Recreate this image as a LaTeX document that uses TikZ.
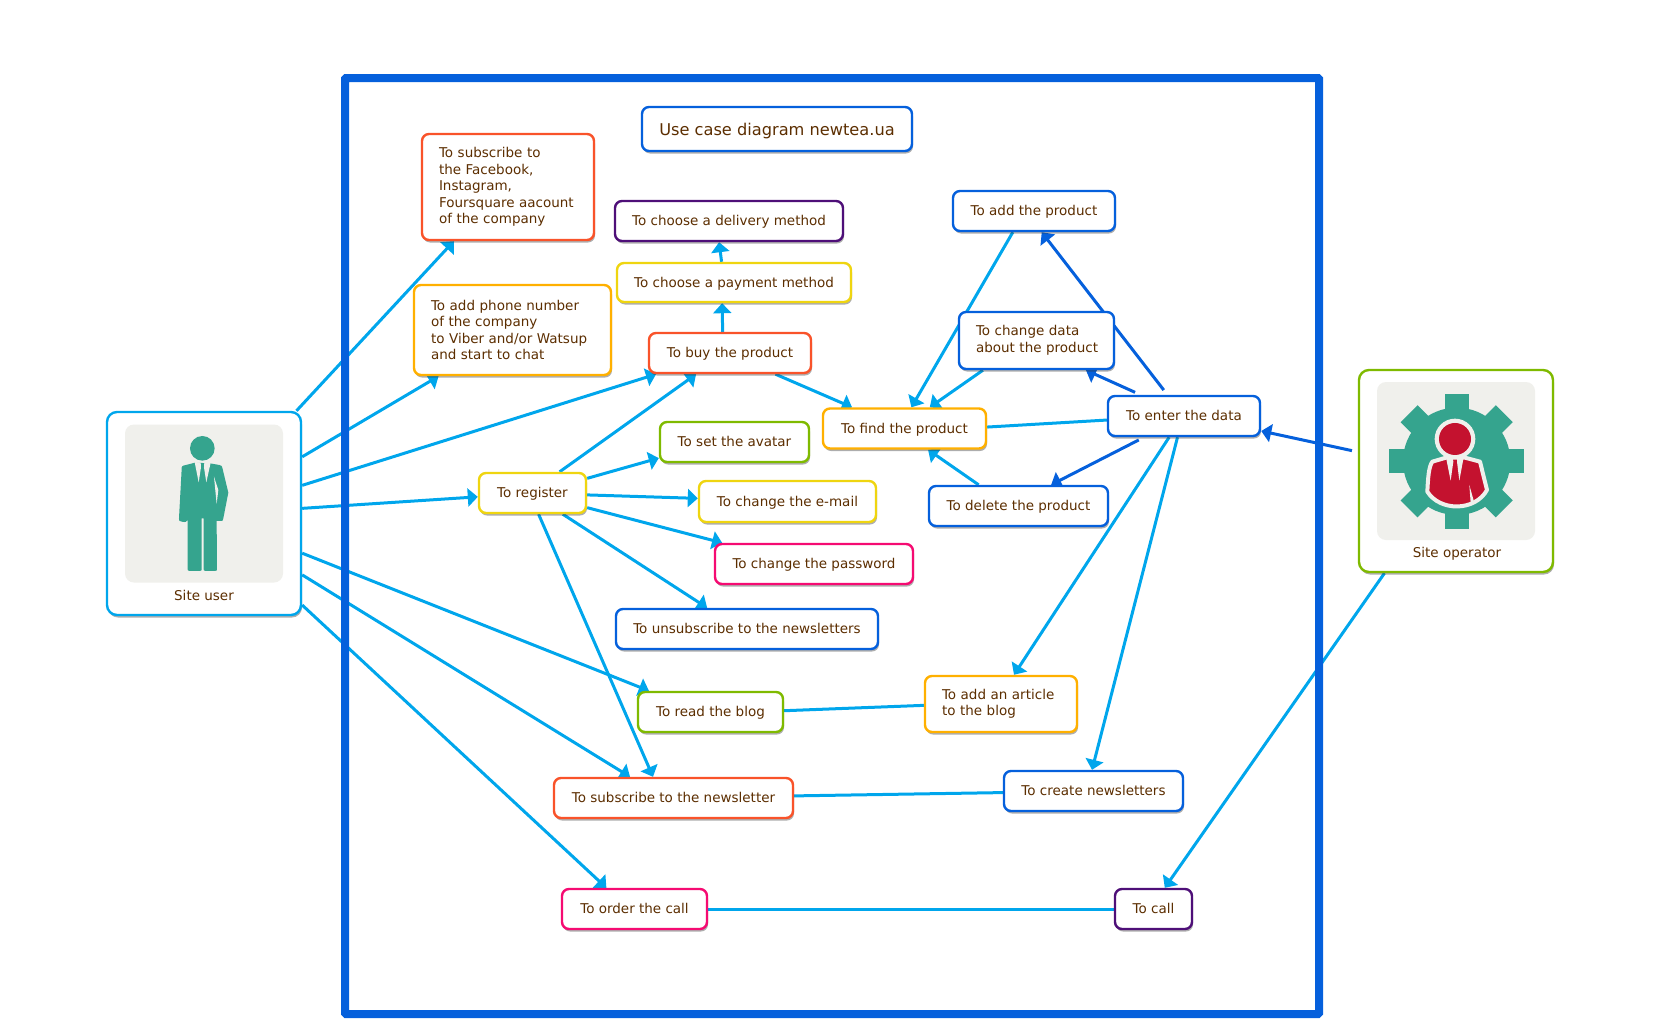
\documentclass[tikz,border=0pt]{standalone}
\usepackage{fontspec}
\setmainfont{DejaVu Sans}
\usetikzlibrary{arrows.meta,backgrounds,shadows}
\definecolor{LineCyan}{HTML}{00A6EC}
\definecolor{LineBlue}{HTML}{0560DC}
\definecolor{BoxRed}{HTML}{F9532A}
\definecolor{BoxOrange}{HTML}{FFB000}
\definecolor{BoxYellow}{HTML}{EFD510}
\definecolor{BoxGreen}{HTML}{7FBA00}
\definecolor{BoxPink}{HTML}{F50B72}
\definecolor{BoxPurple}{HTML}{4E0F78}
\definecolor{TextBrown}{HTML}{5C2E00}
\definecolor{PanelGrey}{HTML}{F0F0EC}
\definecolor{IconTeal}{HTML}{35A48E}
\definecolor{IconRed}{HTML}{C4122F}
\newcommand{\usecasebox}[7]{%
    \node[ucbox, text height=12.6pt, text depth=3pt, draw=#6, minimum width=#4pt, minimum height=#5pt] (#1) at (#2,#3) {#7};
}
\newcommand{\usecaselong}[7]{%
    \node[ucbox, align=left, text width=#4pt-34pt, draw=#6, minimum width=#4pt, minimum height=#5pt] (#1) at (#2,#3) {#7};
}
\newcommand{\actorbox}[6]{%
    \node[ucbox, rounded corners=10pt, draw=#4, minimum width=194pt, minimum height=#5pt] (#1) at (#2,#3) {};
    \node[actorpanel] (#1panel) at (#2,#3-#6) {};
}

\begin{document}
\begin{tikzpicture}[
            x=1pt, y=-1pt,
            ucbox/.style = {rectangle,
                rounded corners=7pt,
                fill=white,
                line width=2.4pt,
                text=TextBrown,
                inner sep=0pt,
                font=\fontsize{13.5pt}{16.5pt}\selectfont,
                drop shadow={shadow xshift=1pt, shadow yshift=-2.5pt, opacity=.4, fill=black!80},
            },
            actorpanel/.style = {rectangle,
                rounded corners=9pt,
                fill=PanelGrey,
                minimum width=158pt,
                minimum height=158pt,
            },
            actorlabel/.style = {text=TextBrown,
                inner sep=0pt,
                font=\fontsize{13.5pt}{16.5pt}\selectfont,
            },
            sysframe/.style = {rectangle,
                draw=LineBlue,
                line width=8pt,
                rounded corners=1pt,
                minimum width=974pt,
                minimum height=936pt,
            },
            assoc/.style = {draw=LineCyan, line width=3pt},
            ucarrow/.style = {assoc, -{Triangle[length=10pt, width=18pt]}},
            oparrow/.style = {draw=LineBlue, line width=3pt, -{Triangle[length=10pt, width=18pt]}, shorten <=6pt},
        ]
            \useasboundingbox (0,0) rectangle (1660,1036);
            \node[sysframe] (frame) at (832,546) {};

            % actors
            \actorbox{user}{204}{513.5}{LineCyan}{203}{10}
            \node[actorlabel] (userlabel) at (204,595) {Site user};
            \actorbox{operator}{1456}{471}{BoxGreen}{202}{10}
            \node[actorlabel] (operatorlabel) at (1457,554) {Site operator};

            % man icon
            \begin{scope}[shift={(80,380)}, x=.3333pt, y=-.3333pt]
                \fill[IconTeal] (367,205) circle (37);
                \fill[IconTeal] (318,255) -- (345,248) -- (390,250) -- (418,255) .. controls (425,257) .. (427,263) -- (445,338) -- (430,415)
                    .. controls (428,423) .. (423,423) -- (410,423) -- (411,563) .. controls (411,573) .. (403,573) -- (380,573)
                    .. controls (371,573) .. (371,563) -- (371,415) -- (365,415) -- (365,563) .. controls (365,573) .. (357,573) -- (332,573)
                    .. controls (323,573) .. (323,563) -- (323,420) .. controls (318,427) .. (305,425) .. controls (297,423) .. (297,415)
                    -- (305,268) .. controls (305,258) .. (318,255) -- cycle;
                \fill[PanelGrey] (344,246) -- (356,307) -- (363,262) -- (362,248) -- cycle;
                \fill[PanelGrey] (392,248) -- (379,307) -- (372,262) -- (373,248) -- cycle;
                \fill[PanelGrey] (402,290) -- (415,330) -- (410,372) -- cycle;
            \end{scope}

            % gear icon
            \begin{scope}[shift={(1340,350)}, x=.3333pt, y=-.3333pt]
                \fill[IconTeal] (350,334) circle (161);
                \foreach \toothangle in {0,45,...,315} {
                    \fill[IconTeal, rotate around={\toothangle:(350,334)}] (314,132) rectangle (386,200);
                }
                \fill[PanelGrey] (345,267) circle (61);
                \draw[PanelGrey, fill=IconRed, line width=4pt, line join=round]
                    (262,425) .. controls (264,385) and (266,350) .. (277,335) -- (318,323) -- (375,323) -- (420,335)
                    -- (441,420) .. controls (405,485) and (300,485) .. (262,425) -- cycle;
                \fill[IconRed] (345,267) circle (48);
                \fill[PanelGrey] (318,322) -- (332,392) -- (340,335) -- (338,322) -- cycle;
                \fill[PanelGrey] (371,322) -- (358,392) -- (351,335) -- (352,322) -- cycle;
                \fill[PanelGrey] (388,405) -- (402,455) -- (392,458) -- cycle;
            \end{scope}

            % use cases
            \usecasebox{title}{777}{129}{270}{44}{LineBlue}{\raisebox{-1.6pt}{\fontsize{16.2pt}{18pt}\selectfont Use case diagram newtea.ua}}
            \usecaselong{fb}{508}{187}{172}{106}{BoxRed}{To subscribe to\\the Facebook,\\Instagram,\\Foursquare aacount\\of the company}
            \usecaselong{phone}{512.5}{330}{197}{90}{BoxOrange}{To add phone number\\of the company\\to Viber and/or Watsup\\and start to chat}
            \usecasebox{delivery}{729}{221}{228}{40}{BoxPurple}{To choose a delivery method}
            \usecasebox{payment}{734}{282.5}{234}{39}{BoxYellow}{To choose a payment method}
            \usecasebox{buy}{730}{353}{162}{40}{BoxRed}{To buy the product}
            \usecasebox{addproduct}{1034}{211}{162}{40}{LineBlue}{To add the product}
            \usecaselong{changedata}{1036.5}{340.5}{155}{57}{LineBlue}{To change data\\\mbox{about the product}}
            \usecasebox{enter}{1184}{416}{152}{40}{LineBlue}{To enter the data}
            \usecasebox{find}{904.5}{428.5}{163}{40}{BoxOrange}{To find the product}
            \usecasebox{delete}{1018.5}{506}{179}{40}{LineBlue}{To delete the product}
            \usecasebox{register}{532.5}{493}{107}{40}{BoxYellow}{To register}
            \usecasebox{avatar}{734.5}{442}{149}{40}{BoxGreen}{To set the avatar}
            \usecasebox{email}{787.5}{501.5}{177}{41}{BoxYellow}{To change the e-mail}
            \usecasebox{password}{814}{564}{198}{40}{BoxPink}{To change the password}
            \usecasebox{unsub}{747}{629}{262}{40}{LineBlue}{To unsubscribe to the newsletters}
            \usecasebox{blog}{710.5}{712}{145}{40}{BoxGreen}{To read the blog}
            \usecaselong{article}{1001}{704}{152}{56}{BoxOrange}{To add an article\\to the blog}
            \usecasebox{subnews}{673.5}{798}{239}{40}{BoxRed}{To subscribe to the newsletter}
            \usecasebox{create}{1093.5}{791}{179}{40}{LineBlue}{To create newsletters}
            \usecasebox{order}{634.5}{909}{145}{40}{BoxPink}{To order the call}
            \usecasebox{call}{1153.5}{909}{77}{40}{BoxPurple}{To call}

            % connectors
            \begin{scope}[on background layer]
                \foreach \from/\to in {user.48.5/fb.225, user.30.7/phone.212, user.16.9/buy.196, user.3.8/register.184.3,
                        user.-22.2/blog.161.1, user.-32/subnews.154.8, user.-43.6/order.143,
                        register.38.1/buy.212, register.15.7/avatar.192.9, register.-2.1/email.178.4,
                        register.-15.7/password.167, register.-35/unsub.152.7, register.-74.6/subnews.134.3,
                        buy.109.3/payment.240.6, payment.121.6/delivery.245.8, buy.-25.5/find.158.1,
                        addproduct.225/find.72, changedata.209.9/find.40, delete.152.6/find.-42,
                        enter.235/article.66.8, enter.253.3/create.94.3, operator.235.3/call.62.3} {
                    \draw[ucarrow] (\from) -- (\to);
                }
                \foreach \from/\to in {enter.183/find.1.8, blog.1.6/article.181.5, subnews.1/create.181.3, order.east/call.west} {
                    \draw[assoc] (\from) -- (\to);
                }
                \foreach \from/\to in {enter.128.7/addproduct.-70, enter.154.5/changedata.-31, enter.208.7/delete.33, operator.169/enter.-11.9} {
                    \draw[oparrow] (\from) -- (\to);
                }
            \end{scope}
        \end{tikzpicture}
\end{document}
